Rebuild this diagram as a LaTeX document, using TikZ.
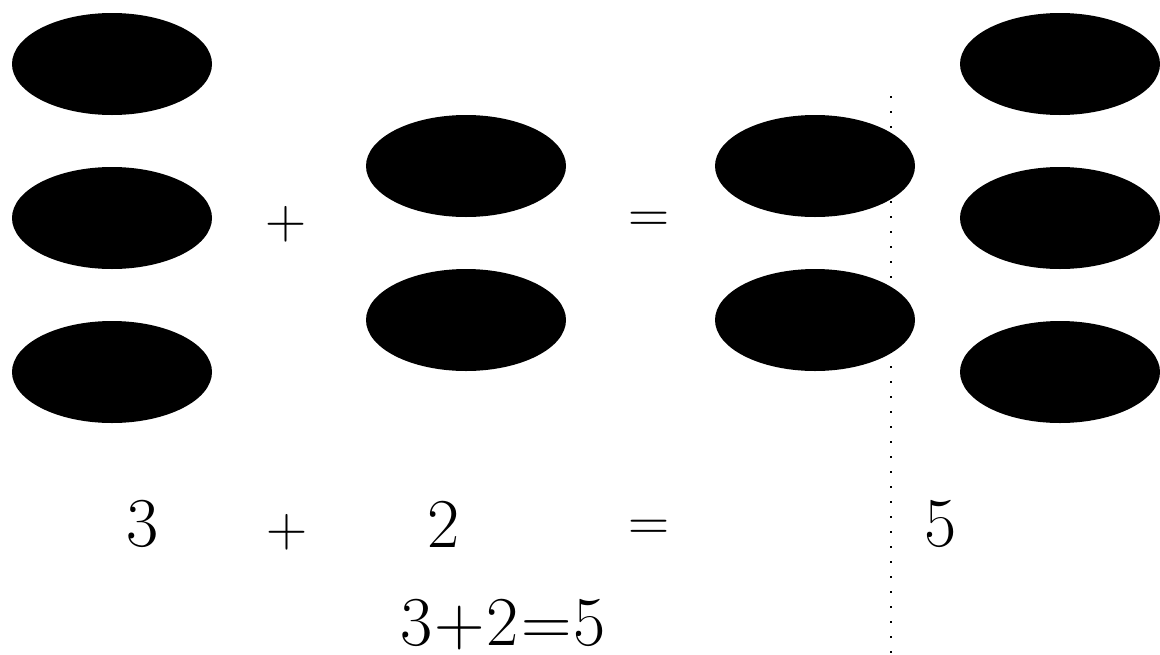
\documentclass[tikz,border=0pt]{standalone}
\usetikzlibrary{shapes.geometric}
\newcommand{\opsize}{\fontsize{57}{59}\selectfont}
\begin{document}
\begin{tikzpicture}[x=1pt,y=-1pt,
  blob/.style={ellipse, fill=black, draw=none, minimum width=200pt, minimum height=102pt, inner sep=0pt},
  sym/.style={inner sep=0pt, font=\fontsize{70}{72}\selectfont},
  op/.style={inner sep=0pt, font=\opsize},
  ]
\useasboundingbox (0,0) rectangle (1160,654);
% dotted divider (behind the ellipses)
\coordinate (top) at (891,96);
\coordinate (bot) at (891,654);
\draw[line width=1.4pt, dash pattern=on 2pt off 13pt] (top) -- (bot);
% left column (3)
\node[blob] (a1) at (112,64) {};
\node[blob] (a2) at (112,218) {};
\node[blob] (a3) at (112,372) {};
% second column (2)
\node[blob] (b1) at (466,166) {};
\node[blob] (b2) at (466,320) {};
% third column (2)
\node[blob] (c1) at (815,166) {};
\node[blob] (c2) at (815,320) {};
% right column (3)
\node[blob] (d1) at (1060,64) {};
\node[blob] (d2) at (1060,218) {};
\node[blob] (d3) at (1060,372) {};
% operators, top row
\node[op] (plus1) at (286,224) {+};
\node[op] (eq1) at (649,222) {=};
% bottom row
\node[sym] (n3) at (143,524) {3};
\node[op] (plus2) at (287,532) {+};
\node[sym] (n2) at (444,524) {2};
\node[op] (eq2) at (649,530) {=};
\node[sym] (n5) at (941,524) {5};
\node[sym, anchor=base] (sum) at (503,645) {3\kern2pt+\kern2pt2\kern2pt=\kern2pt5};
\end{tikzpicture}
\end{document}
